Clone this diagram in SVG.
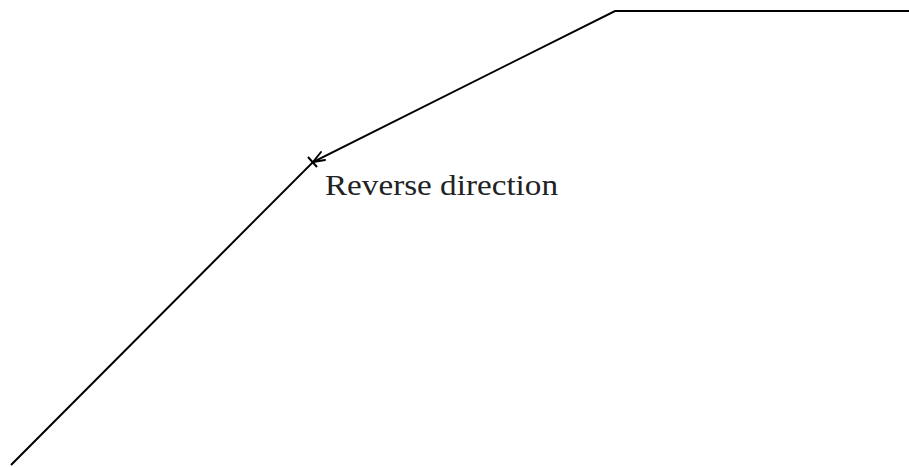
<svg xmlns="http://www.w3.org/2000/svg" width="909" height="467" viewBox="0 0 909 467">
<style>
.ln{fill:none;stroke:#000;stroke-width:2;stroke-linejoin:miter}
.lbl{font-family:"Liberation Serif","DejaVu Serif",serif;font-size:29px;fill:#222}
</style>
<rect width="909" height="467" fill="#fff"/>
<g id="connectors">
<polyline class="ln" points="11,465 313,162 615,11 909,11"/>
<g id="marker" class="ln" stroke-width="1.6">
<path d="M321,152 L313,162 L325,160" stroke-linecap="round"/>
<path d="M308,157 L317,167"/>
</g>
</g>
<g id="label">
<text class="lbl" x="325" y="195" textLength="233" lengthAdjust="spacingAndGlyphs">Reverse direction</text>
</g>
</svg>
